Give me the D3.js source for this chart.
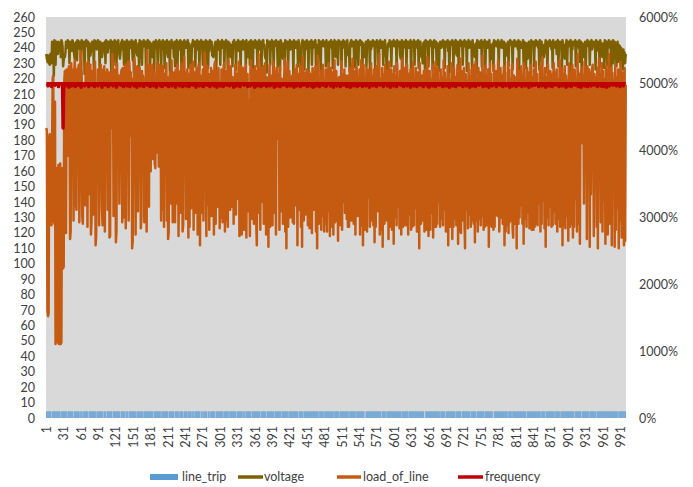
<!DOCTYPE html>
<html>
<head>
<meta charset="utf-8">
<script src="https://cdn.jsdelivr.net/npm/d3@7/dist/d3.min.js"></script>
<style>
  body { margin: 0; background: #fff; }
  text { font-family: Lato, "Open Sans", sans-serif; fill: #404040; }
</style>
</head>
<body>
<div class="canvas"></div>
<script>
// values (one per category 1..1000)
const loadOfLine = [
  188,186,70,66,68,182,184,181,126,125,178,220,222,128,126,205,48,160,162,50,
  49,164,48,150,165,48,49,158,162,97,98,218,225,212,120,226,224,170,221,228,
  222,116,121,230,186,226,219,128,222,232,224,140,135,226,190,226,229,127,168,238,
  230,224,131,126,182,212,215,138,230,178,222,124,231,145,216,224,229,119,128,225,
  220,132,225,223,231,112,118,214,192,226,221,125,170,210,229,218,136,125,226,216,
  228,121,222,224,183,226,135,219,224,117,118,221,224,188,236,229,131,220,176,226,
  114,121,230,185,217,222,139,200,173,224,226,127,227,130,213,224,229,123,222,225,
  226,231,128,231,223,183,224,216,110,115,220,194,233,226,119,221,178,228,134,217,
  225,227,219,123,130,225,184,222,218,127,214,174,228,121,238,212,140,137,229,225,
  160,223,226,229,168,218,225,165,162,221,215,231,172,215,163,227,229,222,128,219,
  135,228,211,124,223,188,217,230,128,221,116,120,203,224,219,139,232,209,127,224,
  186,218,127,226,139,219,229,207,118,170,218,225,133,230,228,121,125,223,234,183,
  224,129,190,226,202,117,223,124,217,229,136,176,227,231,122,219,224,133,140,227,
  192,119,226,230,225,112,222,218,133,214,226,128,216,237,228,185,118,225,228,138,
  223,122,217,180,227,131,224,225,210,119,229,231,126,184,225,221,137,227,165,123,
  218,130,226,222,127,216,229,230,121,219,128,225,209,124,233,174,220,135,228,214,
  137,221,219,126,181,217,229,132,223,142,218,222,231,118,191,224,228,119,145,227,
  226,122,177,226,229,117,220,223,134,206,188,118,226,232,211,129,226,224,126,169,
  228,220,127,112,225,219,236,133,217,122,227,210,140,224,228,126,175,230,205,119,
  221,125,186,111,218,229,124,222,172,216,125,231,228,133,225,189,119,227,227,214,
  181,223,122,228,203,134,220,218,126,178,217,233,121,224,110,219,231,124,222,225,
  215,130,176,221,222,127,209,126,225,226,138,224,229,112,218,223,135,216,228,124,
  220,111,234,206,128,224,171,219,132,226,213,125,221,225,123,190,223,218,120,227,
  224,135,214,182,228,121,220,110,235,210,126,217,167,225,122,223,131,229,207,121,
  219,126,226,226,121,211,134,230,223,118,176,227,205,124,224,119,216,232,127,193,
  225,128,209,115,220,221,125,181,219,231,122,223,140,217,226,133,221,222,129,204,
  124,222,124,227,170,218,128,223,233,208,126,224,225,119,187,228,214,131,221,145,
  226,119,218,232,125,223,112,229,206,122,221,189,227,121,226,220,143,225,124,217,
  230,128,222,202,125,226,114,219,124,228,213,134,224,225,236,119,132,220,122,227,
  111,223,215,126,229,220,128,224,225,207,116,231,124,221,171,226,122,223,219,113,
  228,204,130,222,125,230,210,137,220,123,225,185,119,233,228,124,145,217,227,125,
  221,125,229,206,119,223,132,218,226,122,222,124,231,211,125,220,136,227,216,121,
  224,121,219,110,230,203,126,222,177,128,213,225,121,131,226,208,122,234,188,118,
  144,225,122,220,212,133,229,117,223,124,217,231,124,222,126,227,209,140,219,124,
  226,129,221,215,125,232,135,224,205,121,220,126,228,112,223,210,124,219,136,230,
  116,222,124,227,202,129,221,125,218,229,113,224,121,190,233,120,225,142,220,128,
  227,128,110,223,214,135,219,123,230,207,132,221,124,226,128,217,229,126,222,114,
  231,206,128,220,121,227,212,129,224,125,218,131,235,210,122,222,124,228,217,125,
  221,126,226,111,219,230,125,223,124,216,204,122,229,124,220,132,225,211,131,232,
  225,121,143,227,209,130,222,126,218,228,112,224,121,187,213,125,231,120,226,127,
  220,205,128,229,123,117,222,217,126,184,221,110,233,208,126,225,130,219,138,228,
  215,126,222,113,230,203,129,220,124,227,211,133,224,123,218,144,229,122,221,210,
  122,226,124,219,231,126,223,125,217,207,139,228,121,222,126,234,212,141,220,123,
  227,111,221,214,130,229,125,218,137,225,202,124,223,125,219,230,134,224,126,216,
  226,121,220,209,129,232,124,221,128,227,112,223,125,217,228,123,222,213,131,219,
  115,230,206,124,224,126,218,229,117,221,124,226,211,142,220,121,236,204,126,223,
  113,219,225,227,215,178,222,139,231,208,225,220,116,228,187,217,226,111,224,145,
  218,226,229,212,118,223,182,221,205,124,227,110,219,233,176,222,127,216,230,121,
  225,141,220,209,113,228,187,223,119,218,236,126,221,138,227,112,224,210,180,219,
  111,229,122,221,207,136,226,110,220,128,231,213,117,224,140,218,112,227,115,216
];

const voltage = [
  236,233,231,235,230,234,229,236,232,230,244,238,243,222,245,243,229,244,241,242,
  236,244,243,240,243,234,245,244,241,228,232,236,234,237,244,243,240,245,244,242,
  230,244,243,241,238,245,244,242,236,233,235,243,244,232,245,244,241,244,239,243,
  228,245,243,242,240,244,223,243,244,245,242,241,244,227,243,236,235,238,242,244,
  243,243,226,245,244,242,244,239,242,245,241,243,224,244,243,236,234,237,243,243,
  241,244,230,245,244,242,237,244,243,243,240,245,222,243,242,244,229,242,245,243,
  244,228,243,242,245,238,236,233,237,243,244,245,239,241,229,244,243,243,226,245,
  243,242,231,244,243,243,240,245,241,232,244,224,243,242,245,238,237,235,236,243,
  227,245,244,243,244,229,243,242,245,241,242,244,223,243,244,245,240,241,244,228,
  243,236,234,237,242,244,226,243,242,245,240,244,229,242,244,245,241,243,224,244,
  239,245,243,243,227,244,244,242,245,236,234,238,244,225,242,243,245,240,243,241,
  234,244,228,243,244,245,223,242,243,244,239,245,244,226,243,241,244,229,245,243,
  242,240,244,243,245,227,243,240,236,234,224,242,243,245,241,241,244,228,243,242,
  245,239,242,244,226,243,244,245,240,241,229,244,243,243,222,245,244,240,244,227,
  243,238,245,240,242,244,235,236,234,237,241,243,244,225,242,243,245,239,243,244,
  229,244,243,245,240,242,244,227,243,244,245,241,241,223,244,243,243,236,234,237,
  242,228,244,243,245,240,243,226,242,244,243,245,238,243,244,224,244,241,242,245,
  239,243,244,244,227,245,241,236,234,235,244,229,242,245,243,243,222,244,243,241,
  245,240,242,244,228,243,243,245,239,241,244,226,243,244,245,240,242,235,233,238,
  224,245,244,241,243,244,229,242,243,245,239,243,227,244,241,242,245,243,242,228,
  244,241,243,225,245,244,242,236,233,237,243,229,245,244,240,242,244,226,243,243,
  245,239,241,244,243,243,223,245,244,242,240,244,243,243,228,245,236,234,238,227,
  242,244,245,241,243,226,244,243,241,245,239,243,224,244,244,242,240,245,229,243,
  240,244,243,243,245,227,242,237,233,235,245,244,243,225,244,242,242,245,241,241,
  243,244,228,245,241,242,243,222,244,244,242,245,240,243,227,244,243,245,236,234,
  244,241,243,229,245,244,242,242,244,226,243,240,245,243,241,244,228,243,244,245,
  237,235,238,225,243,244,245,241,242,243,244,228,243,227,245,241,243,244,229,243,
  242,245,244,242,244,224,243,238,234,236,241,244,228,243,244,245,242,242,226,244,
  239,243,241,245,243,242,244,227,243,241,245,242,244,223,242,244,245,240,243,243,
  244,229,243,240,245,236,234,226,237,242,243,241,245,244,242,228,244,243,243,245,
  241,243,244,244,225,245,241,243,242,244,236,233,235,245,227,242,240,244,243,243,
  245,228,242,244,244,240,243,243,245,224,244,242,241,243,245,229,243,240,244,242,
  242,245,227,243,244,244,236,234,237,230,243,243,244,222,245,244,242,243,244,228,
  243,241,245,242,242,244,226,243,240,245,243,241,244,229,243,237,234,225,242,244,
  244,240,243,241,245,244,242,227,244,243,243,241,245,238,241,224,244,244,243,242,
  245,240,228,244,243,243,245,236,235,237,244,226,243,241,245,243,242,244,229,243,
  242,245,241,242,244,225,243,243,245,240,241,244,243,243,227,245,240,242,237,234,
  236,243,223,245,244,242,244,240,243,240,245,228,244,243,242,243,245,226,243,241,
  244,240,243,243,245,229,242,236,233,235,243,225,245,244,242,244,241,243,243,245,
  227,244,240,242,243,245,240,242,244,244,224,243,236,235,237,241,244,228,243,243,
  245,243,242,244,226,243,241,245,241,241,244,243,243,239,245,222,244,244,242,240,
  243,240,245,229,244,243,242,227,243,236,233,237,244,241,243,225,245,243,242,244,
  244,228,243,241,245,242,242,244,240,243,226,245,240,243,244,229,242,236,234,237,
  241,245,243,243,224,244,243,242,245,241,243,239,244,227,245,243,241,243,240,244,
  236,243,245,228,242,240,244,243,243,226,245,241,242,235,233,237,243,245,229,242,
  244,241,243,244,245,225,242,239,244,242,243,242,245,228,241,244,243,243,240,245,
  231,242,244,227,243,236,234,237,242,244,223,243,243,245,242,241,244,229,243,244,
  245,239,242,241,244,243,243,226,245,241,242,244,238,242,228,245,243,243,236,234,
  240,243,227,245,244,242,244,229,243,240,245,242,241,244,225,243,239,245,230,242,
  244,236,243,228,240,244,231,242,237,241,229,240,234,238,226,239,233,237,230,236
];

// frequency, plotted on the secondary (%) axis: 50 -> 5000%
const frequency = [
  50,50,50,49.7,50,50,50,50,50,49.6,50,50,50,50,50,49.8,50,50,50,50,
  50,49.6,50,50,50,50,50,50,50,43.4,50,50,50,49.7,50,50,50,50,50,49.5,
  50,50,50,50,49.7,50,50,50,50,50,49.6,50,50,50,50,49.8,50,50,50,50,
  49.5,50,50,50,50,50,49.7,50,50,50,50,50,50,49.6,50,50,50,50,49.8,50,
  50,50,50,49.6,50,50,50,50,50,49.7,50,50,50,50,50,50,49.5,50,50,50,
  50,50,49.8,50,50,50,50,49.6,49.7,50,50,50,50,50,50,49.7,50,50,50,50,
  50,49.5,50,50,50,50,50,50,49.8,50,50,50,50,49.6,50,50,50,50,50,49.7,
  50,50,50,50,49.6,50,50,50,50,50,50,49.7,50,50,50,50,49.5,50,50,50,
  50,50,49.7,50,50,50,50,50,49.6,50,50,50,50,50,49.8,50,50,50,50,49.6,
  50,50,50,50,50,49.7,50,50,50,50,49.5,50,50,50,50,50,50,49.7,50,50,
  49.6,50,50,50,50,50,49.8,50,50,50,50,49.6,50,50,50,50,50,49.7,50,50,
  50,50,50,49.5,50,50,50,50,50,50,49.7,50,50,50,50,49.6,50,50,50,50,
  50,49.7,50,50,50,50,49.6,50,50,50,50,50,49.8,50,50,50,50,50,49.5,50,
  50,50,50,50,49.7,50,50,50,50,50,49.6,49.6,50,50,50,50,50,49.8,50,50,
  50,50,49.6,50,50,50,50,50,50,49.7,50,50,50,50,49.5,50,50,50,50,50,
  49.7,50,50,50,50,49.6,50,50,50,50,50,49.8,50,50,50,50,49.7,50,50,50,
  50,50,50,49.5,50,50,50,50,49.7,50,50,50,50,50,49.6,50,50,50,50,50,
  50,49.8,50,50,50,50,50,49.6,50,50,50,50,49.7,50,50,50,50,50,50,49.5,
  50,50,50,50,49.7,50,50,50,50,50,49.6,50,50,50,50,49.8,50,50,50,50,
  49.6,50,50,50,50,50,49.7,50,50,50,50,50,50,49.5,50,50,50,50,49.7,50,
  50,50,50,49.6,50,50,50,50,50,49.8,50,50,50,50,50,49.6,50,50,50,50,
  50,49.7,50,50,50,50,50,49.5,50,50,50,50,49.7,50,50,50,50,50,49.6,50,
  50,50,50,50,49.8,50,50,50,50,50,49.6,50,50,50,50,50,49.7,50,50,50,
  49.5,50,50,50,50,49.7,50,50,50,50,50,49.6,50,50,50,50,50,49.8,50,50,
  50,50,49.6,49.7,50,50,50,50,50,50,49.7,50,50,50,50,49.5,50,50,50,50,
  50,49.7,50,50,50,50,50,49.6,50,50,50,50,50,49.8,50,50,50,50,49.6,50,
  50,50,50,50,49.5,50,50,50,50,50,49.7,50,50,50,50,50,49.6,50,50,50,
  49.8,50,50,50,50,49.6,50,50,50,50,50,49.7,50,50,50,50,50,49.5,50,50,
  50,50,50,49.7,50,50,50,50,50,49.6,50,50,50,50,50,49.8,50,50,50,50,
  50,49.6,50,50,50,50,50,50,49.7,50,50,50,50,49.5,50,50,50,50,50,49.7,
  50,50,50,50,49.6,50,50,50,50,50,50,49.8,50,50,50,50,49.6,50,50,50,
  50,50,49.7,50,50,50,50,50,49.5,50,50,50,50,50,49.7,50,50,50,50,49.6,
  50,50,50,50,50,49.8,50,50,50,50,49.6,50,50,50,50,50,50,49.7,50,50,
  49.5,50,50,50,50,50,49.7,50,50,50,50,49.6,50,50,50,50,50,49.8,50,50,
  50,50,50,49.6,49.6,50,50,50,50,50,49.7,50,50,50,50,49.5,50,50,50,50,
  50,49.7,50,50,50,50,49.6,50,50,50,50,50,49.8,50,50,50,50,50,49.6,50,
  50,50,50,50,49.7,50,50,50,50,50,49.5,50,50,50,50,49.7,50,50,50,50,
  49.6,50,50,50,50,50,49.8,50,50,50,50,50,50,49.6,50,50,50,50,49.7,50,
  50,50,50,49.5,50,50,50,50,50,49.7,50,50,50,50,50,50,49.6,50,50,50,
  50,50,49.8,50,50,50,50,49.6,50,50,50,50,50,49.7,50,50,50,50,50,49.5,
  50,50,50,50,49.7,50,50,50,50,50,49.6,50,50,50,50,49.8,50,50,50,50,
  49.6,50,50,50,50,50,49.7,50,50,50,50,50,49.5,50,50,50,50,50,49.7,50,
  50,50,50,49.8,50,50,50,50,50,49.6,50,50,50,50,50,49.7,50,50,50,50,
  50,49.5,50,50,50,50,50,49.7,50,50,50,50,49.6,50,50,50,50,50,49.8,50,
  50,50,50,50,49.6,50,50,50,50,50,49.7,50,50,50,50,50,49.5,50,50,50,
  49.7,50,50,50,50,49.6,50,50,50,50,50,49.8,50,50,50,50,50,49.6,50,50,
  50,50,49.5,50,50,50,50,50,49.7,50,50,50,50,49.6,50,50,50,50,50,49.7,
  50,50,50,50,49.8,50,50,50,50,50,49.6,50,50,50,50,50,49.7,50,50,50,
  49.6,50,50,50,50,50,49.5,50,50,50,50,49.7,50,50,50,50,50,49.8,50,50,
  50,50,50,49.7,50,50,50,50,50,49.6,50,50,50,50,50,49.7,50,50,50,50
];

// line_trip bars, also on the secondary axis (1 -> 100%)
const lineTrip = [
  1,1,1,1,1,1,1,1,1,0,1,1,1,1,1,1,1,1,1,1,
  1,1,1,1,1,0,1,1,1,1,1,1,1,1,1,1,0,1,1,1,
  1,1,1,1,1,1,1,0,1,1,1,1,1,1,1,1,1,1,0,1,
  1,1,1,0,1,1,1,1,1,1,1,1,1,0,1,1,1,1,1,1,
  1,1,1,1,1,1,0,1,1,1,1,1,1,1,1,1,1,1,1,0,
  1,1,1,1,0,1,1,1,1,1,1,1,1,1,0,1,1,1,1,1,
  1,1,1,1,1,1,1,1,0,1,1,1,1,1,1,1,1,0,1,1,
  1,1,0,1,1,1,1,1,1,1,1,1,1,1,1,0,1,1,1,1,
  1,1,1,1,1,1,1,0,1,1,1,1,1,1,1,1,1,1,1,1,
  1,1,1,1,1,0,1,1,1,1,1,1,1,1,1,1,1,1,0,1,
  1,1,1,1,1,1,1,1,1,1,1,0,1,1,1,1,1,1,1,1,
  1,0,1,1,1,1,1,1,1,0,1,1,1,1,1,1,1,0,1,1,
  1,1,1,1,0,1,1,1,1,1,1,0,1,1,1,0,1,1,1,1,
  1,1,1,1,1,1,0,1,1,1,0,1,1,1,1,1,1,1,0,1,
  1,1,0,1,1,1,1,1,1,1,1,1,0,1,1,1,1,1,1,1,
  1,1,1,1,1,0,1,1,1,1,1,1,1,1,1,0,1,1,1,1,
  1,1,1,1,1,1,1,1,0,1,1,1,1,1,1,1,1,1,1,0,
  1,1,1,0,1,1,1,1,1,1,1,1,1,1,0,1,1,1,1,1,
  1,1,1,1,1,1,1,1,1,0,1,1,1,1,1,1,1,1,1,1,
  0,1,1,1,1,1,1,1,1,1,1,1,1,0,1,1,1,1,1,1,
  1,1,1,1,1,1,0,1,1,1,1,1,1,1,1,1,1,0,1,1,
  1,1,1,1,1,1,1,1,1,1,1,1,1,1,1,0,1,1,1,1,
  1,1,1,0,1,1,1,1,1,1,1,1,1,1,1,1,1,1,1,1,
  1,1,1,1,1,1,1,1,1,1,0,1,1,1,1,1,1,1,1,0,
  1,1,1,1,1,1,1,1,1,1,1,1,1,1,1,1,0,1,1,1,
  1,1,1,1,1,0,1,1,1,1,1,1,1,1,1,1,1,1,1,1,
  1,1,0,1,1,1,1,1,1,1,1,1,1,1,0,1,1,1,1,1,
  1,1,1,1,1,1,1,1,1,0,0,1,1,1,1,1,1,1,1,1,
  1,1,1,1,1,1,1,1,1,1,1,1,1,1,1,1,1,1,0,1,
  1,1,1,1,1,1,0,1,1,1,1,1,1,1,1,1,1,1,1,1,
  1,1,1,1,1,1,1,1,1,1,1,1,1,0,1,1,1,1,1,1,
  1,1,1,1,0,1,1,1,1,1,1,1,1,1,1,1,1,1,1,1,
  1,1,1,1,1,1,1,1,1,1,1,1,0,0,1,1,1,1,1,1,
  1,1,1,1,1,1,1,1,1,1,1,1,1,1,1,1,1,1,1,0,
  1,1,1,1,1,1,1,1,0,1,1,1,1,1,1,1,1,1,1,1,
  1,1,1,1,1,1,0,1,1,1,1,1,1,1,1,1,0,1,1,1,
  1,1,1,1,1,1,1,1,1,1,1,0,1,1,1,1,1,1,1,1,
  1,1,0,1,1,1,1,1,1,1,1,1,1,1,1,0,1,1,1,1,
  1,1,1,1,1,1,1,1,1,1,0,0,1,1,1,1,1,1,1,1,
  1,1,1,1,1,1,1,1,1,1,1,1,1,1,1,1,0,1,1,1,
  1,1,1,0,1,1,1,1,1,1,1,1,1,1,1,1,1,1,1,1,
  1,1,1,1,1,1,1,1,0,1,1,1,1,1,1,1,1,1,1,1,
  1,1,1,1,1,1,1,1,1,1,1,1,1,0,1,1,1,1,1,1,
  1,0,1,1,1,1,1,1,1,1,1,1,1,1,1,1,1,0,1,1,
  1,1,1,1,1,1,0,1,1,1,1,1,1,1,1,1,1,1,1,1,
  1,1,1,1,1,1,1,1,1,1,1,0,1,1,1,1,1,1,1,1,
  1,1,1,0,1,1,1,1,1,1,1,1,1,1,1,1,0,1,1,1,
  1,1,1,1,1,1,1,1,1,0,1,1,1,1,1,1,1,1,1,1,
  1,1,1,1,1,1,1,1,1,1,1,1,1,1,1,1,1,1,1,1,
  1,1,1,1,1,1,0,1,1,1,1,1,1,1,1,1,1,1,1,1
];

const xTickLabels = [1,31,61,91,121,151,181,211,241,271,301,331,361,391,421,451,481,511,541,571,601,631,661,691,721,751,781,811,841,871,901,931,961,991];
const leftTicks = [0,10,20,30,40,50,60,70,80,90,100,110,120,130,140,150,160,170,180,190,200,210,220,230,240,250,260];
const rightTicks = [0,10,20,30,40,50,60];
const seriesNames = ['line_trip', 'voltage', 'load_of_line', 'frequency'];
const seriesColors = ['#5B9BD5', '#7F6000', '#C55A11', '#C00000'];

//1. dimensions
const width = 693, height = 487;
const plot = {left: 46, right: 626, top: 17, bottom: 418};

//2. svg
const svg = d3.select('.canvas')
    .append('svg')
    .attr('width', width)
    .attr('height', height);

// categories are just the row numbers 1..n
const categories = loadOfLine.map((d, i) => i + 1);

//3. scales
const xScale = d3.scaleBand().domain(categories).range([plot.left, plot.right]).padding(0);
const xMid = c => xScale(c) + xScale.bandwidth() / 2;
const yLeft = d3.scaleLinear().domain([0, 260]).range([plot.bottom, plot.top]);
const yRight = d3.scaleLinear().domain([0, 60]).range([plot.bottom, plot.top]);

// plot area background
svg.append('rect')
    .attr('x', plot.left)
    .attr('y', plot.top)
    .attr('width', plot.right - plot.left)
    .attr('height', plot.bottom - plot.top)
    .attr('fill', '#D9D9D9');

//4. axes (no lines, labels only)
const leftAxis = svg.append('g')
    .attr('transform', `translate(${plot.left},0)`)
    .call(d3.axisLeft(yLeft).tickValues(leftTicks).tickSize(0).tickPadding(11));
const rightAxis = svg.append('g')
    .attr('transform', `translate(${plot.right},0)`)
    .call(d3.axisRight(yRight).tickValues(rightTicks).tickSize(0).tickPadding(13)
        .tickFormat(d => (d * 100) + '%'));
const xAxis = svg.append('g')
    .attr('transform', `translate(0,${plot.bottom})`)
    .call(d3.axisBottom(xScale).tickValues(xTickLabels).tickSize(0));

[leftAxis, rightAxis, xAxis].forEach(g => {
    g.select('.domain').remove();
    g.selectAll('text').style('font-size', '12.5px').attr('fill', '#404040');
});

// rotate x labels so they read bottom to top
xAxis.selectAll('text')
    .attr('transform', 'rotate(-90)')
    .attr('text-anchor', 'end')
    .attr('x', -8)
    .attr('y', 0)
    .attr('dy', '0.35em');

//5. line_trip bars
svg.append('g').selectAll('rect')
    .data(lineTrip)
    .enter()
    .append('rect')
        .attr('x', (d, i) => xScale(categories[i]))
        .attr('width', xScale.bandwidth())
        .attr('y', d => yRight(d))
        .attr('height', d => yRight(0) - yRight(d))
        .attr('fill', seriesColors[0]);

//6. lines
const drawLine = (values, yScale, color, w) => {
    const line = d3.line()
        .x((d, i) => xMid(categories[i]))
        .y(d => yScale(d));
    svg.append('path')
        .datum(values)
        .attr('d', line)
        .attr('fill', 'none')
        .attr('stroke', color)
        .attr('stroke-width', w)
        .attr('stroke-linejoin', 'round');
};
drawLine(voltage, yLeft, seriesColors[1], 2.5);
drawLine(loadOfLine, yLeft, seriesColors[2], 2.5);
drawLine(frequency, yRight, seriesColors[3], 3.5);

//7. legend
const legendY = 477;
const legendItems = [
    {swatch: 150, swatchW: 28, text: 182},
    {swatch: 238, swatchW: 25, text: 264},
    {swatch: 337, swatchW: 24, text: 363},
    {swatch: 458, swatchW: 25, text: 485}
];
const legend = svg.append('g');
seriesNames.forEach((name, i) => {
    const it = legendItems[i];
    if (i === 0) {
        legend.append('rect')
            .attr('x', it.swatch).attr('y', legendY - 3)
            .attr('width', it.swatchW).attr('height', 6)
            .attr('fill', seriesColors[i]);
    } else {
        legend.append('line')
            .attr('x1', it.swatch).attr('x2', it.swatch + it.swatchW)
            .attr('y1', legendY).attr('y2', legendY)
            .attr('stroke', seriesColors[i])
            .attr('stroke-width', 3.5);
    }
    legend.append('text')
        .attr('x', it.text)
        .attr('y', legendY)
        .attr('dy', '0.35em')
        .style('font-size', '12.5px')
        .text(name);
});
</script>
</body>
</html>
